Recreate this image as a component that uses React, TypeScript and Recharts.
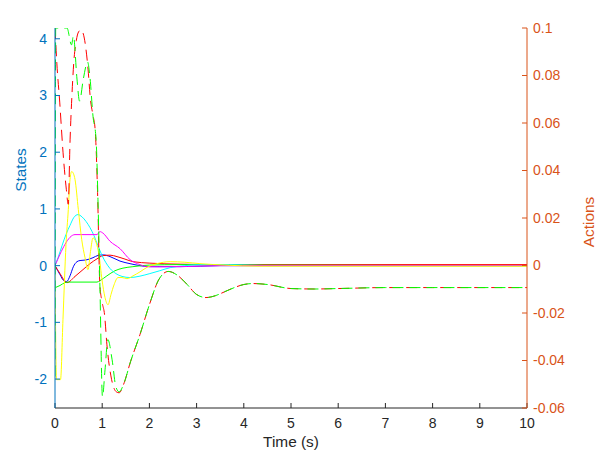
import React from 'react';
import { ComposedChart, Line, XAxis, YAxis, Label } from 'recharts';

// ---------- ticks ----------
const timeTicks = [0, 1, 2, 3, 4, 5, 6, 7, 8, 9, 10];
const stateTicks = [-2, -1, 0, 1, 2, 3, 4];
const actionTicks = [-0.06, -0.04, -0.02, 0, 0.02, 0.04, 0.06, 0.08, 0.1];

// ---------- states (left axis) ----------
const blueT = [0, 0.106, 0.18, 0.248, 0.318, 0.388, 0.466, 0.53, 0.657, 0.805, 0.911, 1.023, 1.165, 1.377, 1.59, 1.8, 2.01, 2.65, 3.5, 10];
const blueV = [0, -0.16, -0.26, -0.28, -0.18, -0.02, 0.07, 0.09, 0.1, 0.14, 0.18, 0.19, 0.16, 0.08, 0.035, 0, -0.018, -0.018, 0, 0];

const redST = [0, 0.106, 0.254, 0.424, 0.593, 0.742, 0.89, 1.017, 1.165, 1.314, 1.483, 1.653, 2.01, 2.65, 3.5, 10];
const redSV = [0, -0.14, -0.3, -0.19, -0.07, 0.035, 0.12, 0.176, 0.185, 0.159, 0.115, 0.07, 0.044, 0.026, 0.018, 0.018];

const greenST = [0, 0.106, 0.21, 0.275, 0.89, 0.953, 1.1, 1.27, 1.44, 1.65, 2.0, 2.65, 4.13, 10];
const greenSV = [-0.39, -0.35, -0.3, -0.29, -0.29, -0.265, -0.18, -0.09, -0.044, -0.018, 0.01, 0.018, 0.01, 0];

const cyanT = [0, 0.064, 0.148, 0.233, 0.318, 0.4, 0.487, 0.572, 0.657, 0.742, 0.826, 0.911, 0.996, 1.08, 1.165, 1.29, 1.42, 1.59, 1.8, 2.01, 2.22, 2.44, 2.75, 3.07, 3.7, 4.55, 10];
const cyanV = [0, 0.14, 0.35, 0.55, 0.71, 0.85, 0.9, 0.86, 0.78, 0.67, 0.53, 0.35, 0.18, 0.05, -0.05, -0.14, -0.19, -0.21, -0.185, -0.14, -0.09, -0.035, 0, 0.018, 0.018, 0, 0];

const magentaT = [0, 0.424, 0.89, 0.95, 1.017, 1.165, 1.377, 1.59, 1.8, 1.95, 2.2, 2.8, 3.5, 10];
const magentaV = [0, 0.547, 0.547, 0.6, 0.573, 0.43, 0.3, 0.106, 0.018, -0.018, -0.02, -0.015, 0, 0];

const yellowT = [0, 0.032, 0.117, 0.169, 0.233, 0.282, 0.318, 0.354, 0.392, 0.424, 0.494, 0.566, 0.636, 0.699, 0.752, 0.805, 0.869, 0.932, 0.996, 1.059, 1.123, 1.186, 1.25, 1.335, 1.42, 1.525, 1.653, 1.8, 1.97, 2.16, 2.44, 2.75, 3.07, 3.6, 4.34, 10];
const yellowV = [0, -2.01, -2.01, -0.95, 0.37, 0.99, 1.52, 1.66, 1.62, 1.52, 0.99, 0.46, 0.14, -0.07, 0.25, 0.49, 0.41, 0.19, -0.25, -0.56, -0.69, -0.51, -0.34, -0.21, -0.21, -0.23, -0.18, -0.11, -0.02, 0.035, 0.07, 0.06, 0.035, 0.01, -0.01, -0.01];

// ---------- actions (right axis) ----------
const redAT = [0, 0.04, 0.1, 0.17, 0.24, 0.28, 0.32, 0.36, 0.4, 0.45, 0.5, 0.55, 0.6, 0.65, 0.7, 0.75, 0.8, 0.85, 0.9, 0.95, 1.0, 1.05, 1.1, 1.2, 1.3, 1.36, 1.45, 1.6, 1.8, 2.0, 2.2, 2.4, 2.6, 2.8, 3.0, 3.2, 3.4, 3.6, 3.8, 4.0, 4.2, 4.5, 5.0, 5.5, 6.0, 7.0, 8.0, 10];
const redAV = [0.1, 0.0849, 0.0688, 0.0477, 0.0321, 0.0258, 0.0532, 0.0722, 0.0861, 0.0946, 0.0984, 0.0992, 0.0975, 0.092, 0.0827, 0.0701, 0.0637, 0.0574, 0.0321, -0.008, -0.0156, -0.0207, -0.0334, -0.0481, -0.0532, -0.0536, -0.0502, -0.0405, -0.0291, -0.0165, -0.0059, -0.0025, -0.0042, -0.008, -0.0122, -0.0135, -0.0127, -0.011, -0.0093, -0.008, -0.0076, -0.008, -0.0097, -0.0099, -0.0097, -0.0093, -0.0093, -0.0093];

const greenAT = [0, 0.015, 0.254, 0.35, 0.39, 0.466, 0.52, 0.6, 0.69, 0.74, 0.805, 0.87, 0.91, 0.953, 1.006, 1.06, 1.12, 1.21, 1.29, 1.36, 1.45, 1.6, 1.8, 2.0, 2.2, 2.4, 2.6, 2.8, 3.0, 3.2, 3.4, 3.6, 3.8, 4.0, 4.2, 4.5, 5.0, 5.5, 6.0, 7.0, 8.0, 10];
const greenAV = [-0.048, 0.1, 0.1, 0.0929, 0.0967, 0.0785, 0.0692, 0.0785, 0.0857, 0.0794, 0.0629, 0.0532, 0.0279, -0.0101, -0.0553, -0.0439, -0.0312, -0.0397, -0.0511, -0.0532, -0.0502, -0.0405, -0.0291, -0.0165, -0.0059, -0.0025, -0.0042, -0.008, -0.0122, -0.0135, -0.0127, -0.011, -0.0093, -0.008, -0.0076, -0.008, -0.0097, -0.0099, -0.0097, -0.0093, -0.0093, -0.0093];

const FONT = '"Liberation Sans", Arial, Helvetica, sans-serif';
const AX_BLUE = '#0072BD';
const AX_ORANGE = '#D95319';
const DARK = '#262626';

const pts = (t: number[], v: number[]) => t.map((x, i) => ({ t: x, v: v[i] }));

const stateSeries = [
  { key: 'b', color: '#0000FF', data: pts(blueT, blueV) },
  { key: 'r', color: '#FF0000', data: pts(redST, redSV) },
  { key: 'g', color: '#00FF00', data: pts(greenST, greenSV) },
  { key: 'c', color: '#00FFFF', data: pts(cyanT, cyanV) },
  { key: 'm', color: '#FF00FF', data: pts(magentaT, magentaV) },
  { key: 'y', color: '#FFFF00', data: pts(yellowT, yellowV) },
];

const actionSeries = [
  { key: 'ar', color: '#FF0000', data: pts(redAT, redAV), offset: 0 },
  { key: 'ag', color: '#00FF00', data: pts(greenAT, greenAV), offset: -3 },
];

const fmtAction = (v: number) => String(Math.round(v * 100) / 100);

export default function App() {
  return (
    <div style={{ position: 'absolute', left: 0, top: 0, width: 606, height: 458, background: '#fff' }}>
      <ComposedChart width={606} height={458} margin={{ top: 28, right: 0, bottom: 0, left: 0 }}>
        <XAxis
          xAxisId="b"
          type="number"
          dataKey="t"
          domain={[0, 10]}
          ticks={timeTicks}
          interval={0}
          allowDataOverflow
          height={50}
          tickSize={-5}
          tickMargin={15}
          stroke={DARK}
          tick={{ fill: DARK, fontSize: 14, fontFamily: FONT }}
        >
          <Label
            content={() => (
              <text x={291} y={447} textAnchor="middle" fill={DARK} fontSize={15.4} fontFamily={FONT}>
                Time (s)
              </text>
            )}
          />
        </XAxis>
        <XAxis
          xAxisId="top"
          orientation="top"
          type="number"
          dataKey="t"
          domain={[0, 10]}
          ticks={timeTicks}
          interval={0}
          allowDataOverflow
          height={0}
          tickSize={-5}
          tickFormatter={() => ''}
          stroke={DARK}
          tick={{ fill: DARK, fontSize: 1 }}
        >
          <Label
            content={() => (
              <text x={291} y={19} textAnchor="middle" fill="#000" fontWeight="bold" fontSize={15.4} fontFamily={FONT}>
                Reward -2.5215
              </text>
            )}
          />
        </XAxis>
        <YAxis
          yAxisId="s"
          type="number"
          domain={[-2.51, 4.19]}
          ticks={stateTicks}
          interval={0}
          allowDataOverflow
          width={55}
          tickSize={-5}
          tickMargin={13}
          stroke={AX_BLUE}
          tick={{ fill: AX_BLUE, fontSize: 14, fontFamily: FONT }}
        >
          <Label
            content={() => (
              <text x={26} y={170} transform="rotate(-90 26 170)" textAnchor="middle" fill={AX_BLUE} fontSize={15.4} fontFamily={FONT}>
                States
              </text>
            )}
          />
        </YAxis>
        <YAxis
          yAxisId="a"
          orientation="right"
          type="number"
          domain={[-0.06, 0.1]}
          ticks={actionTicks}
          interval={0}
          allowDataOverflow
          width={79}
          tickSize={-5}
          tickMargin={11}
          stroke={AX_ORANGE}
          tickFormatter={fmtAction}
          tick={{ fill: AX_ORANGE, fontSize: 14, fontFamily: FONT }}
        >
          <Label
            content={() => (
              <text x={594} y={222} transform="rotate(-90 594 222)" textAnchor="middle" fill={AX_ORANGE} fontSize={15.4} fontFamily={FONT}>
                Actions
              </text>
            )}
          />
        </YAxis>
        {stateSeries.map((s) => (
          <Line
            key={s.key}
            xAxisId="b"
            yAxisId="s"
            data={s.data}
            dataKey="v"
            type="monotone"
            stroke={s.color}
            strokeWidth={1}
            dot={false}
            activeDot={false}
            isAnimationActive={false}
          />
        ))}
        {actionSeries.map((s) => (
          <Line
            key={s.key}
            xAxisId="b"
            yAxisId="a"
            data={s.data}
            dataKey="v"
            type="monotone"
            stroke={s.color}
            strokeWidth={1}
            strokeDasharray="11 6"
            strokeDashoffset={s.offset}
            dot={false}
            activeDot={false}
            isAnimationActive={false}
          />
        ))}
      </ComposedChart>
    </div>
  );
}
